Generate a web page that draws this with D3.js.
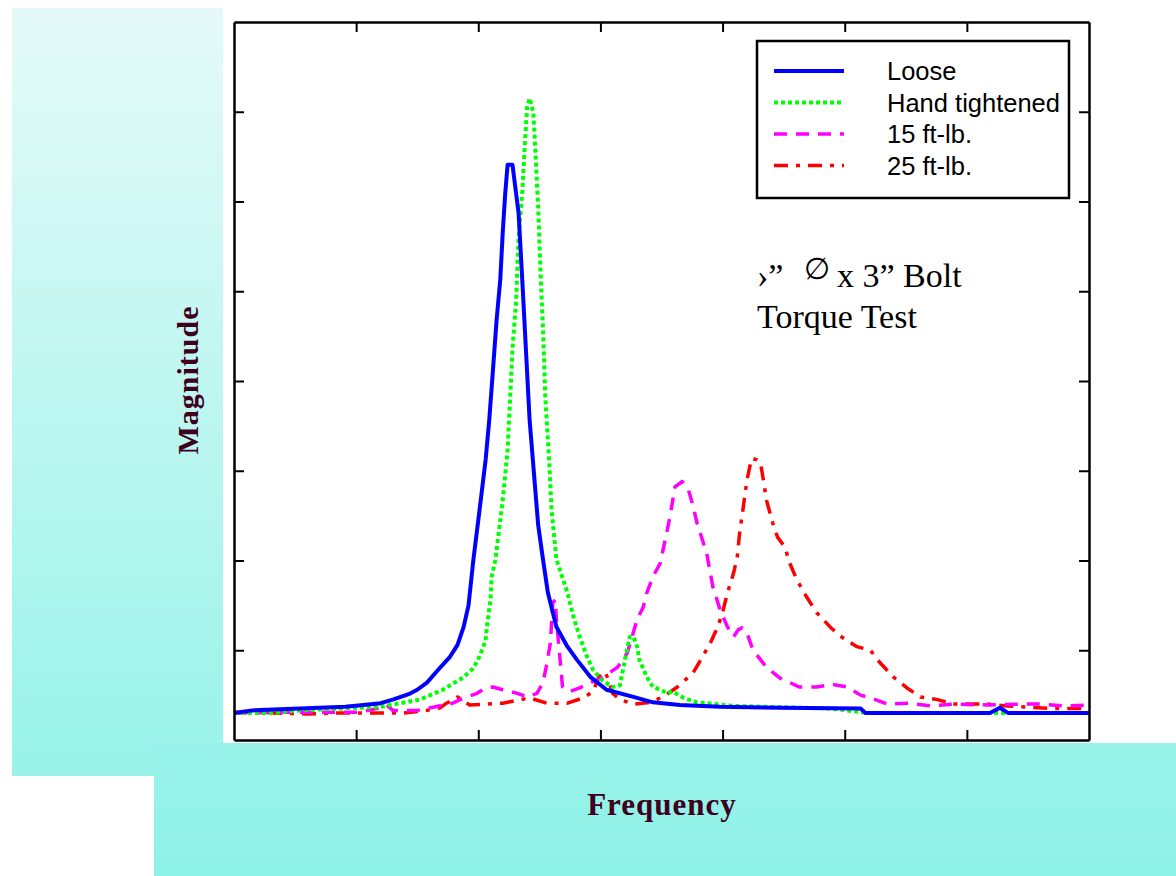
<!DOCTYPE html>
<html>
<head>
<meta charset="utf-8">
<script src="https://cdn.jsdelivr.net/npm/d3@7"></script>
<style>
  body { margin: 0; background: #fff; }
  svg { display: block; }
</style>
</head>
<body>
<script>
const width = 1176;
const height = 876;

// frequency (arbitrary units 0..70), magnitude (arbitrary units 0..80)
const looseF = [0, 1.5, 5.4, 9.1, 10.6, 12.0, 13.0, 14.3, 15.0, 15.8, 16.7, 17.7, 18.3, 18.8, 19.2, 19.6, 19.9, 20.2, 20.6, 20.9, 21.2, 21.5, 21.8, 22.0, 22.2, 22.4, 22.8, 23.3, 23.6, 23.9, 24.2, 24.6, 24.9, 25.3, 25.7, 26.4, 27.3, 28.1, 29.2, 30.5, 32.7, 34.3, 36.5, 39.8, 44.7, 51.3, 51.7, 61.9, 62.7, 63.4, 70];
const looseM = [3.0, 3.3, 3.5, 3.7, 3.9, 4.1, 4.5, 5.1, 5.6, 6.4, 7.8, 9.3, 10.6, 12.6, 15.0, 20.1, 23.4, 26.7, 31.2, 35.7, 41.2, 46.8, 51.3, 56.5, 60.8, 64.1, 64.1, 58.7, 51.3, 43.5, 35.7, 29.0, 24.0, 20.1, 16.4, 12.6, 10.4, 8.9, 7.0, 5.6, 4.8, 4.2, 3.9, 3.7, 3.6, 3.5, 3.0, 3.0, 3.6, 3.0, 3.0];

const handF = [0, 3.0, 5.4, 8.7, 12.0, 15.2, 17.1, 18.8, 19.6, 20.1, 20.6, 20.7, 21.0, 21.1, 21.4, 21.7, 22.0, 22.4, 22.6, 22.8, 23.1, 23.3, 23.6, 23.8, 24.0, 24.2, 24.5, 24.7, 24.9, 25.1, 25.3, 25.5, 25.8, 26.0, 26.4, 27.3, 27.8, 28.3, 28.9, 29.4, 30.1, 31.0, 31.6, 32.0, 32.4, 32.7, 33.0, 33.2, 33.8, 34.3, 34.9, 35.5, 35.9, 36.8, 37.9, 40.9, 43.6, 49.0, 51.3, 52.1, 70];
const handM = [3.0, 3.0, 3.3, 3.5, 3.7, 4.5, 5.6, 7.0, 8.0, 9.3, 11.1, 12.6, 15.6, 18.2, 20.1, 23.4, 26.7, 32.3, 37.9, 43.5, 49.0, 56.0, 61.0, 66.1, 70.5, 71.5, 70.0, 65.0, 59.4, 52.0, 45.7, 37.9, 31.2, 25.6, 20.1, 16.4, 13.7, 11.5, 9.3, 7.8, 6.7, 5.9, 6.1, 8.9, 11.5, 11.5, 10.4, 8.9, 7.0, 5.9, 5.6, 5.2, 5.4, 4.7, 4.2, 3.8, 3.7, 3.5, 3.1, 3.0, 3.0];

const ft15F = [0, 5.4, 10.3, 12.0, 12.5, 13.0, 15.0, 16.1, 17.9, 18.5, 19.9, 20.6, 21.2, 22.0, 23.2, 24.0, 24.8, 25.3, 25.6, 25.9, 26.1, 26.3, 26.4, 26.7, 26.9, 27.5, 28.3, 29.2, 30.2, 31.4, 32.2, 33.0, 33.5, 33.8, 34.3, 34.9, 35.3, 35.7, 36.1, 36.7, 37.2, 37.6, 37.9, 38.3, 38.7, 39.2, 39.8, 40.4, 40.9, 41.3, 41.6, 42.0, 42.5, 43.6, 44.7, 46.3, 47.7, 49.0, 50.2, 51.3, 52.1, 53.5, 55.3, 57.0, 58.9, 61.7, 64.4, 66.0, 67.9, 70];
const ft15M = [3.0, 3.1, 3.1, 3.6, 3.9, 3.3, 3.3, 3.6, 4.1, 4.5, 5.2, 5.8, 5.9, 5.6, 5.2, 4.8, 5.2, 6.4, 8.4, 10.8, 15.3, 15.6, 13.4, 8.9, 5.9, 5.4, 5.8, 6.4, 7.0, 8.1, 9.7, 13.4, 14.8, 16.4, 18.2, 19.7, 22.3, 24.9, 28.2, 28.8, 27.9, 26.0, 24.2, 22.5, 20.8, 17.1, 14.5, 12.6, 11.5, 12.3, 12.5, 11.9, 10.0, 8.1, 6.9, 5.9, 5.9, 6.2, 5.9, 5.0, 4.7, 4.0, 4.1, 3.8, 4.0, 3.9, 4.0, 4.0, 3.8, 3.9];

const ft25F = [0, 1.6, 3.2, 6.0, 8.4, 11.1, 13.8, 15.8, 16.9, 17.4, 18.3, 19.3, 22.0, 24.2, 25.6, 27.3, 28.6, 29.4, 30.0, 30.4, 30.6, 31.0, 31.6, 32.7, 34.1, 35.1, 36.3, 37.6, 38.2, 39.0, 39.6, 40.0, 40.4, 40.9, 41.2, 41.4, 41.7, 42.0, 42.3, 42.4, 42.8, 43.1, 43.3, 43.6, 44.1, 44.5, 45.1, 45.5, 46.1, 46.9, 47.7, 48.8, 49.6, 51.0, 52.1, 52.9, 54.0, 55.1, 56.2, 57.6, 58.9, 61.7, 63.3, 64.4, 67.1, 70];
const ft25M = [3.1, 3.1, 3.0, 2.9, 3.0, 3.0, 3.0, 3.3, 3.6, 4.1, 4.8, 3.9, 4.1, 4.7, 4.1, 4.1, 4.7, 5.4, 7.5, 7.5, 6.9, 5.2, 4.5, 4.0, 4.2, 4.8, 5.9, 7.5, 8.9, 10.8, 12.6, 14.2, 16.4, 18.6, 20.4, 23.1, 26.0, 29.0, 30.9, 31.4, 31.2, 30.9, 29.3, 26.7, 24.2, 22.6, 21.5, 19.7, 17.8, 15.9, 14.2, 12.6, 11.6, 10.4, 10.0, 8.6, 7.0, 5.8, 4.8, 4.5, 4.0, 4.0, 3.8, 3.7, 3.5, 3.5];

const seriesNames = ['Loose', 'Hand tightened', '15 ft-lb.', '25 ft-lb.'];
const xTicks = [0, 10, 20, 30, 40, 50, 60, 70];
const yTicks = [0, 10, 20, 30, 40, 50, 60, 70, 80];

const series = [
  { name: seriesNames[0], f: looseF, m: looseM, color: '#0000ff', dash: null, w: 4 },
  { name: seriesNames[1], f: handF, m: handM, color: '#00ff00', dash: '4,3', w: 4 },
  { name: seriesNames[2], f: ft15F, m: ft15M, color: '#ff00ff', dash: '13,9', w: 3.5 },
  { name: seriesNames[3], f: ft25F, m: ft25M, color: '#ff0000', dash: '14,8,4,8', w: 3.5 }
];

const plot = { left: 234, right: 1089, top: 22, bottom: 740 };

const svg = d3.select('body').append('svg')
  .attr('width', width)
  .attr('height', height);

const defs = svg.append('defs');
const g1 = defs.append('linearGradient').attr('id', 'leftBg')
  .attr('x1', 0).attr('y1', 0).attr('x2', 0).attr('y2', 1);
g1.append('stop').attr('offset', '0%').attr('stop-color', '#e5faf8');
g1.append('stop').attr('offset', '100%').attr('stop-color', '#98f3e9');
const g2 = defs.append('linearGradient').attr('id', 'bottomBg')
  .attr('x1', 0).attr('y1', 0).attr('x2', 0).attr('y2', 1);
g2.append('stop').attr('offset', '0%').attr('stop-color', '#99f3ea');
g2.append('stop').attr('offset', '100%').attr('stop-color', '#8ff2e6');

// background panels
svg.append('rect').attr('x', 12).attr('y', 8).attr('width', 211).attr('height', 768)
  .attr('fill', 'url(#leftBg)');
svg.append('rect').attr('x', 154).attr('y', 743).attr('width', width - 154).attr('height', height - 743)
  .attr('fill', 'url(#bottomBg)');

const x = d3.scaleLinear().domain([0, 70]).range([plot.left, plot.right]);
const y = d3.scaleLinear().domain([0, 80]).range([plot.bottom, plot.top]);

// curves
const line = d3.line()
  .x(d => x(d[0]))
  .y(d => y(d[1]));

series.slice().reverse().forEach(s => {
  const pts = s.f.map((v, i) => [v, s.m[i]]);
  svg.append('path')
    .datum(pts)
    .attr('d', line)
    .attr('fill', 'none')
    .attr('stroke', s.color)
    .attr('stroke-width', s.w)
    .attr('stroke-dasharray', s.dash)
    .attr('stroke-linejoin', 'round');
});

// axes with inward ticks on all sides
function styleAxis(g) {
  g.selectAll('.domain').attr('stroke', '#000').attr('stroke-width', 2.5);
  g.selectAll('.tick line').attr('stroke', '#000').attr('stroke-width', 2);
  g.selectAll('.tick text').remove();
}
const inner = xTicks.slice(1, -1);
const innerY = yTicks.slice(1, -1);
svg.append('g').attr('transform', `translate(0,${plot.bottom})`)
  .call(d3.axisBottom(x).tickValues(inner).tickSize(-10).tickSizeOuter(0)).call(styleAxis);
svg.append('g').attr('transform', `translate(0,${plot.top})`)
  .call(d3.axisTop(x).tickValues(inner).tickSize(-10).tickSizeOuter(0)).call(styleAxis);
svg.append('g').attr('transform', `translate(${plot.left},0)`)
  .call(d3.axisLeft(y).tickValues(innerY).tickSize(-10).tickSizeOuter(0)).call(styleAxis);
svg.append('g').attr('transform', `translate(${plot.right},0)`)
  .call(d3.axisRight(y).tickValues(innerY).tickSize(-10).tickSizeOuter(0)).call(styleAxis);

// legend
const legend = svg.append('g');
legend.append('rect').attr('x', 757).attr('y', 41).attr('width', 312).attr('height', 157)
  .attr('fill', '#fff').attr('stroke', '#000').attr('stroke-width', 2.5);
series.forEach((s, i) => {
  const ly = 71 + i * 31.5;
  legend.append('line')
    .attr('x1', 774).attr('x2', 844).attr('y1', ly).attr('y2', ly)
    .attr('stroke', s.color).attr('stroke-width', s.w)
    .attr('stroke-dasharray', s.dash);
  legend.append('text')
    .attr('x', 887).attr('y', ly + 9)
    .attr('font-family', 'Liberation Sans, Arial, sans-serif')
    .attr('font-size', 25.5)
    .attr('fill', '#000')
    .text(s.name);
});

// annotation
const serif = 'Liberation Serif, Times New Roman, serif';
svg.append('text').attr('x', 757).attr('y', 287)
  .attr('font-family', serif).attr('font-size', 34).text('›”');
svg.append('text').attr('x', 804).attr('y', 279)
  .attr('font-family', serif).attr('font-size', 30).text('∅');
svg.append('text').attr('x', 837).attr('y', 287)
  .attr('font-family', serif).attr('font-size', 34).text('x 3” Bolt');
svg.append('text').attr('x', 757).attr('y', 328)
  .attr('font-family', serif).attr('font-size', 34).text('Torque Test');

// axis titles
svg.append('text')
  .attr('x', 662).attr('y', 815)
  .attr('text-anchor', 'middle')
  .attr('font-family', serif).attr('font-weight', 'bold').attr('font-size', 31)
  .attr('letter-spacing', 1)
  .attr('fill', '#3f0020')
  .text('Frequency');
svg.append('text')
  .attr('transform', 'translate(198,380) rotate(-90)')
  .attr('text-anchor', 'middle')
  .attr('font-family', serif).attr('font-weight', 'bold').attr('font-size', 30)
  .attr('letter-spacing', 1)
  .attr('fill', '#3f0020')
  .text('Magnitude');
</script>
</body>
</html>
